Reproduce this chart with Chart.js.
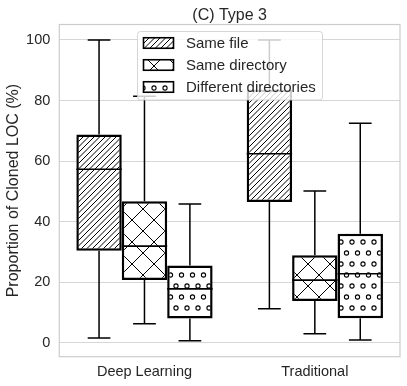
<!DOCTYPE html>
<html>
<head>
<meta charset="utf-8">
<script src="https://cdn.jsdelivr.net/npm/chart.js@4/dist/chart.umd.min.js"></script>
<style>
html,body{margin:0;padding:0;background:#fff;}
#wrap{width:407px;height:386px;}
</style>
</head>
<body>
<div id="wrap"><canvas id="c" width="407" height="386"></canvas></div>
<script>
// ---- data ----
const categories = ['Deep Learning', 'Traditional'];
const seriesNames = ['Same file', 'Same directory', 'Different directories'];
const titleText = '(C) Type 3';
const yAxisTitle = 'Proportion of Cloned LOC (%)';
const yTicks = [0, 20, 40, 60, 80, 100];

const sameFileMin = [1.6, 11.2];
const sameFileQ1 = [30.4, 46.5];
const sameFileMedian = [57.3, 62.4];
const sameFileQ3 = [68.8, 83.6];
const sameFileMax = [100, 100];

const sameDirMin = [6.3, 3.0];
const sameDirQ1 = [20.7, 13.8];
const sameDirMedian = [31.9, 20.7];
const sameDirQ3 = [46.7, 28.9];
const sameDirMax = [81.4, 50.1];

const diffDirMin = [0.7, 0.9];
const diffDirQ1 = [8.0, 8.1];
const diffDirMedian = [17.8, 22.8];
const diffDirQ3 = [25.5, 36.0];
const diffDirMax = [45.8, 72.5];

// ---- table built from arrays ----
const stats = [
  {min: sameFileMin, q1: sameFileQ1, med: sameFileMedian, q3: sameFileQ3, max: sameFileMax},
  {min: sameDirMin, q1: sameDirQ1, med: sameDirMedian, q3: sameDirQ3, max: sameDirMax},
  {min: diffDirMin, q1: diffDirQ1, med: diffDirMedian, q3: diffDirQ3, max: diffDirMax}
];

// ---- hatch patterns ----
function makePattern(kind) {
  const s = 22;
  const c = document.createElement('canvas');
  c.width = s; c.height = s;
  const g = c.getContext('2d');
  g.fillStyle = '#fff';
  g.fillRect(0, 0, s, s);
  g.strokeStyle = '#000';
  g.lineWidth = 1;
  if (kind === 'diag') {
    for (let k = -5; k <= 5; k++) {
      const x0 = k * 5.5;
      g.beginPath(); g.moveTo(x0, s); g.lineTo(x0 + s, 0); g.stroke();
    }
  } else if (kind === 'cross') {
    for (let k = -1; k <= 1; k++) {
      g.beginPath(); g.moveTo(k * s, s); g.lineTo(k * s + s, 0); g.stroke();
      g.beginPath(); g.moveTo(k * s, 0); g.lineTo(k * s + s, s); g.stroke();
    }
  } else if (kind === 'dots') {
    const pts = [[0,0],[11,0],[22,0],[0,22],[11,22],[22,22],[5.5,11],[16.5,11]];
    g.lineWidth = 1.1;
    pts.forEach(p => {
      g.beginPath(); g.arc(p[0], p[1], 2.1, 0, Math.PI * 2);
      g.fillStyle = '#fff'; g.fill(); g.stroke();
    });
  }
  return document.createElement('canvas').getContext('2d').createPattern(c, 'repeat');
}
const patterns = [makePattern('diag'), makePattern('cross'), makePattern('dots')];

const FONT = '"Liberation Sans", Arial, sans-serif';
const TEXT = '#262626';

const boxPlugin = {
  id: 'boxParts',
  beforeDatasetsDraw(chart) {
    const {ctx, chartArea: a} = chart;
    ctx.save();
    ctx.strokeStyle = '#cccccc';
    ctx.lineWidth = 1.2;
    ctx.strokeRect(a.left, a.top, a.right - a.left, a.bottom - a.top);
    ctx.restore();
  },
  afterDatasetsDraw(chart) {
    const {ctx} = chart;
    const y = chart.scales.y;
    ctx.save();
    ctx.strokeStyle = '#000';
    chart.data.datasets.forEach((ds, i) => {
      const st = stats[i];
      chart.getDatasetMeta(i).data.forEach((bar, j) => {
        const x = bar.x, w = bar.width;
        const pMin = y.getPixelForValue(st.min[j]);
        const pQ1 = y.getPixelForValue(st.q1[j]);
        const pMed = y.getPixelForValue(st.med[j]);
        const pQ3 = y.getPixelForValue(st.q3[j]);
        const pMax = y.getPixelForValue(st.max[j]);
        ctx.lineWidth = 1.5;
        ctx.beginPath();
        ctx.moveTo(x, pQ3); ctx.lineTo(x, pMax);
        ctx.moveTo(x - w / 4, pMax); ctx.lineTo(x + w / 4, pMax);
        ctx.moveTo(x, pQ1); ctx.lineTo(x, pMin);
        ctx.moveTo(x - w / 4, pMin); ctx.lineTo(x + w / 4, pMin);
        ctx.stroke();
        ctx.lineWidth = 1.6;
        ctx.beginPath();
        ctx.moveTo(x - w / 2, pMed); ctx.lineTo(x + w / 2, pMed);
        ctx.stroke();
      });
    });
    ctx.restore();
  },
  afterDraw(chart) {
    const {ctx} = chart;
    ctx.save();
    // legend frame
    const lx = 137.5, ly = 31.5, lw = 185, lh = 68.5, r = 3;
    ctx.beginPath();
    ctx.moveTo(lx + r, ly);
    ctx.arcTo(lx + lw, ly, lx + lw, ly + lh, r);
    ctx.arcTo(lx + lw, ly + lh, lx, ly + lh, r);
    ctx.arcTo(lx, ly + lh, lx, ly, r);
    ctx.arcTo(lx, ly, lx + lw, ly, r);
    ctx.closePath();
    ctx.fillStyle = 'rgba(255,255,255,0.8)';
    ctx.fill();
    ctx.strokeStyle = 'rgba(204,204,204,0.8)';
    ctx.lineWidth = 1;
    ctx.stroke();
    seriesNames.forEach((name, i) => {
      const cy = 43 + i * 22;
      ctx.fillStyle = patterns[i];
      ctx.fillRect(143.5, cy - 5.25, 30, 10.5);
      ctx.strokeStyle = '#000';
      ctx.lineWidth = 1.6;
      ctx.strokeRect(143.5, cy - 5.25, 30, 10.5);
      ctx.fillStyle = TEXT;
      ctx.font = '15px ' + FONT;
      ctx.textBaseline = 'alphabetic';
      ctx.textAlign = 'left';
      ctx.fillText(name, 186, cy + 5.4);
    });
    ctx.restore();
  }
};

new Chart(document.getElementById('c'), {
  type: 'bar',
  data: {
    labels: categories,
    datasets: seriesNames.map((name, i) => ({
      label: name,
      data: stats[i].q1.map((v, j) => [v, stats[i].q3[j]]),
      backgroundColor: patterns[i],
      borderColor: '#000',
      borderWidth: 2.5,
      borderSkipped: false,
      categoryPercentage: 0.8,
      barPercentage: 1.0
    }))
  },
  options: {
    responsive: false,
    animation: false,
    devicePixelRatio: 1,
    layout: {padding: {left: 0, right: 7, top: 0, bottom: 0}},
    plugins: {
      legend: {display: false},
      tooltip: {enabled: false},
      title: {
        display: true,
        text: titleText,
        fullSize: false,
        color: TEXT,
        font: {family: FONT, size: 16, weight: 'normal', lineHeight: 1},
        padding: {top: 8, bottom: 0.5}
      }
    },
    scales: {
      x: {
        grid: {display: false, drawTicks: false},
        border: {display: false},
        ticks: {color: TEXT, font: {family: FONT, size: 14.5}, padding: 7},
        afterFit(scale) { scale.height = 29.3; }
      },
      y: {
        min: -4.6,
        max: 105.1,
        grid: {color: '#d6d6d6', lineWidth: 1, drawTicks: false},
        border: {display: false},
        ticks: {color: TEXT, font: {family: FONT, size: 14.5}, padding: 9},
        afterBuildTicks(scale) { scale.ticks = yTicks.map(v => ({value: v})); },
        title: {
          display: true,
          text: yAxisTitle,
          color: TEXT,
          font: {family: FONT, size: 16},
          padding: {top: 4, bottom: 0}
        },
        afterFit(scale) { scale.width = 59.3; }
      }
    }
  },
  plugins: [boxPlugin]
});
</script>
</body>
</html>
